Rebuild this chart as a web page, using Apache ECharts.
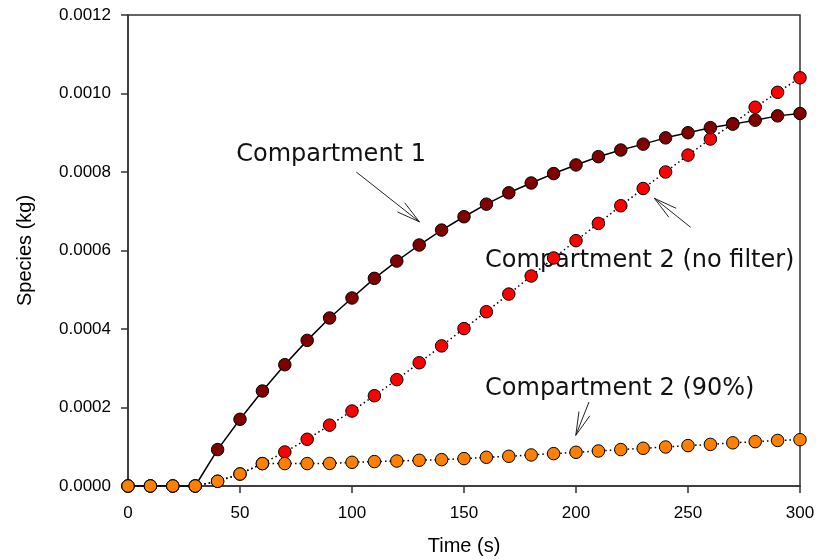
<!DOCTYPE html>
<html lang="en">
<head>
  <meta charset="UTF-8">
  <title>Species vs time</title>
  <script src="https://cdn.jsdelivr.net/npm/echarts@6.0.0/dist/echarts.min.js"></script>
  <style>
    html, body { margin: 0; padding: 0; background: #fff; }
    #chart { width: 816px; height: 560px; }
  </style>
</head>
<body>
  <div id="chart"></div>
  <script>
    // time (s)
    const times = [0, 10, 20, 30, 40, 50, 60, 70, 80, 90, 100, 110, 120, 130, 140, 150,
                   160, 170, 180, 190, 200, 210, 220, 230, 240, 250, 260, 270, 280, 290, 300];
    // Compartment 1
    const comp1 = [0, 0, 0, 0, 0.0000928, 0.000170, 0.000242, 0.000309, 0.000371, 0.000428,
                   0.000479, 0.000529, 0.000573, 0.000614, 0.000652, 0.000686, 0.000718, 0.000747,
                   0.000772, 0.000796, 0.000818, 0.000839, 0.000856, 0.000871, 0.000887, 0.000900,
                   0.000913, 0.000922, 0.000932, 0.000943, 0.000949];
    // Compartment 2 (no filter)
    const comp2NoFilter = [0, 0, 0, 0, 0.000012, 0.0000306, 0.0000571, 0.0000867, 0.000119, 0.000155,
                   0.000191, 0.000230, 0.000271, 0.000314, 0.000357, 0.000401, 0.000444, 0.000489,
                   0.000535, 0.000581, 0.000625, 0.000669, 0.000714, 0.000758, 0.000800, 0.000843,
                   0.000884, 0.000923, 0.000965, 0.001003, 0.001040];
    // Compartment 2 (90%)
    const comp290 = [0, 0, 0, 0, 0.000012, 0.0000306, 0.0000571, 0.0000571, 0.0000572, 0.0000575,
                   0.0000604, 0.0000622, 0.0000637, 0.0000655, 0.0000672, 0.0000698, 0.0000731, 0.0000757,
                   0.0000791, 0.0000825, 0.0000859, 0.0000892, 0.0000928, 0.0000961, 0.0000994, 0.000103,
                   0.000106, 0.000110, 0.000113, 0.000116, 0.000118];

    // annotation labels and arrows, in data coordinates
    const noteTexts = ['Compartment 1', 'Compartment 2 (no filter)', 'Compartment 2 (90%)'];
    const noteAt = [[48.3, 0.000843], [159.4, 0.000575], [159.4, 0.000249]];
    const arrowFrom = [[101.9, 0.000800], [251.2, 0.000659], [205.8, 0.000214]];
    const arrowTo = [[130.1, 0.000673], [235.0, 0.000733], [199.9, 0.000129]];

    const pair = (xs, ys) => xs.map((x, i) => [x, ys[i]]);

    const chart = echarts.init(document.getElementById('chart'));

    function mkSeries(name, ys, color, dotted) {
      return {
        name: name,
        type: 'line',
        data: pair(times, ys),
        symbol: 'circle',
        symbolSize: 12.5,
        showAllSymbol: true,
        animation: false,
        itemStyle: { color: color, borderColor: '#000', borderWidth: 1 },
        lineStyle: { color: '#000', width: 1.5, type: dotted ? [1.5, 3] : 'solid' },
        emphasis: { disabled: true }
      };
    }

    chart.setOption({
      animation: false,
      grid: {
        left: 128, right: 16, top: 15, bottom: 74,
        containLabel: false, outerBoundsMode: 'none',
        show: true, borderColor: '#333', borderWidth: 1.5, backgroundColor: 'transparent'
      },
      xAxis: {
        type: 'value', min: 0, max: 300, interval: 50,
        name: 'Time (s)', nameLocation: 'middle', nameGap: 50,
        nameTextStyle: { fontFamily: 'Liberation Sans', fontSize: 20, color: '#000' },
        axisLine: { show: true, lineStyle: { color: '#333', width: 1.5 } },
        axisTick: { show: true, inside: false, length: 7, lineStyle: { color: '#333', width: 1.5 } },
        axisLabel: { fontFamily: 'Liberation Sans', fontSize: 17, color: '#000', margin: 19 },
        splitLine: { show: false }
      },
      yAxis: {
        type: 'value', min: 0, max: 0.0012, interval: 0.0002,
        name: 'Species (kg)', nameLocation: 'middle', nameGap: 93,
        nameTextStyle: { fontFamily: 'Liberation Sans', fontSize: 20, color: '#000' },
        axisLine: { show: true, lineStyle: { color: '#333', width: 1.5 } },
        axisTick: { show: true, inside: false, length: 7, lineStyle: { color: '#333', width: 1.5 } },
        axisLabel: {
          fontFamily: 'Liberation Sans', fontSize: 17, color: '#000', margin: 17,
          formatter: v => v.toFixed(4)
        },
        splitLine: { show: false }
      },
      series: [
        mkSeries('Compartment 2 (no filter)', comp2NoFilter, '#ff0000', true),
        mkSeries('Compartment 1', comp1, '#800000', false),
        mkSeries('Compartment 2 (90%)', comp290, '#ff8000', true)
      ]
    });

    // labels and open arrows
    const toPx = p => chart.convertToPixel({ gridIndex: 0 }, p);
    const elements = [];
    noteTexts.forEach((t, i) => {
      const at = toPx(noteAt[i]);
      elements.push({
        type: 'text', x: at[0], y: at[1], silent: true,
        style: {
          text: t, fontFamily: 'DejaVu Sans', fontSize: 24, fill: '#111',
          align: 'left', verticalAlign: 'middle'
        }
      });
      const a = toPx(arrowFrom[i]);
      const b = toPx(arrowTo[i]);
      const ang = Math.atan2(b[1] - a[1], b[0] - a[0]);
      const len = 24, spread = 14 * Math.PI / 180;
      const h1 = [b[0] - len * Math.cos(ang - spread), b[1] - len * Math.sin(ang - spread)];
      const h2 = [b[0] - len * Math.cos(ang + spread), b[1] - len * Math.sin(ang + spread)];
      elements.push({
        type: 'polyline', silent: true,
        shape: { points: [a, b] },
        style: { stroke: '#222', lineWidth: 1, fill: null }
      });
      elements.push({
        type: 'polyline', silent: true,
        shape: { points: [h1, b, h2] },
        style: { stroke: '#222', lineWidth: 1, fill: null }
      });
    });
    chart.setOption({ graphic: { elements: elements } });
  </script>
</body>
</html>
